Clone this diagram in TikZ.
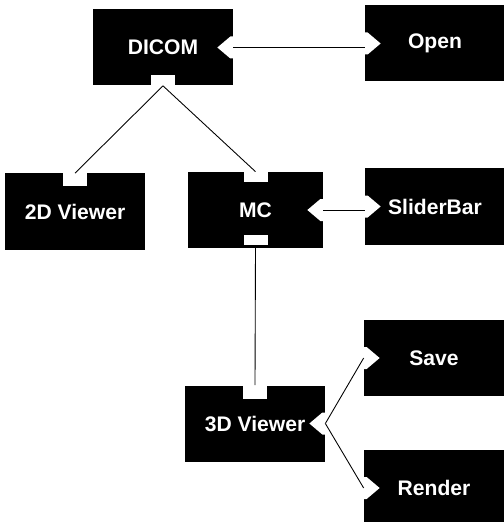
\documentclass[tikz,border=0pt]{standalone}
\usepackage{fontspec}
\newfontfamily\blockfont{Liberation Sans}

\tikzset{
    block/.style={fill=black, text=white, inner sep=0pt,
        minimum width=28mm, minimum height=15.2mm,
        font=\blockfont\bfseries\fontsize{12}{14}\selectfont},
    port/.style={fill=white, inner sep=0pt, minimum width=4.8mm, minimum height=2mm},
    wire/.style={draw=black, line width=0.5pt}
}

% white pointers on the side of a block
\newcommand{\inport}[1]{\fill[white] (#1.west) ++(0,-11) -- ++(3,0) -- ++(13,11) -- ++(-13,11) -- ++(-3,0) -- cycle;}
\newcommand{\outport}[1]{\fill[white] (#1.east) ++(0,-11) -- ++(-3,0) -- ++(-13,11) -- ++(13,11) -- ++(3,0) -- cycle;}

\begin{document}
\begin{tikzpicture}[x=0.2mm, y=-0.2mm]
    \useasboundingbox (0,0) rectangle (503,522);

    \node[block] (DICOM) at (163,47.5) {DICOM};
    \node[block] (Open) at (435,43.5) {Open};
    \node[block] (View2D) at (75,211.5) {2D Viewer};
    \node[block, minimum width=27mm] (MC) at (255.5,210) {MC};
    \node[block] (Slider) at (435,206.5) {SliderBar};
    \node[block] (View3D) at (255,423.5) {3D Viewer};
    \node[block] (Save) at (434,358) {Save};
    \node[block] (Render) at (434,488) {Render};

    % ports
    \node[port, anchor=south] (dicom-b) at (DICOM.south) {};
    \node[port, anchor=north, minimum height=2.6mm] (view2d-t) at (View2D.north) {};
    \node[port, anchor=north] (mc-t) at (MC.north) {};
    \node[port, anchor=south, yshift=0.6mm] (mc-b) at (MC.south) {};
    \node[port, anchor=north, minimum height=2.6mm] (view3d-t) at (View3D.north) {};

    \outport{DICOM}
    \outport{MC}
    \outport{View3D}
    \inport{Open}
    \inport{Slider}
    \inport{Save}
    \inport{Render}

    % connections
    \draw[wire] (dicom-b.south) -- (view2d-t.north);
    \draw[wire] (dicom-b.south) -- (mc-t.north);
    \draw[wire] (mc-b.south) -- (view3d-t.north);
    \draw[wire] (DICOM.east) -- (DICOM.east -| Open.west);
    \draw[wire] (MC.east) -- (MC.east -| Slider.west);
    \draw[wire] (View3D.east) -- (Save.west);
    \draw[wire] (View3D.east) -- (Render.west);
\end{tikzpicture}
\end{document}
